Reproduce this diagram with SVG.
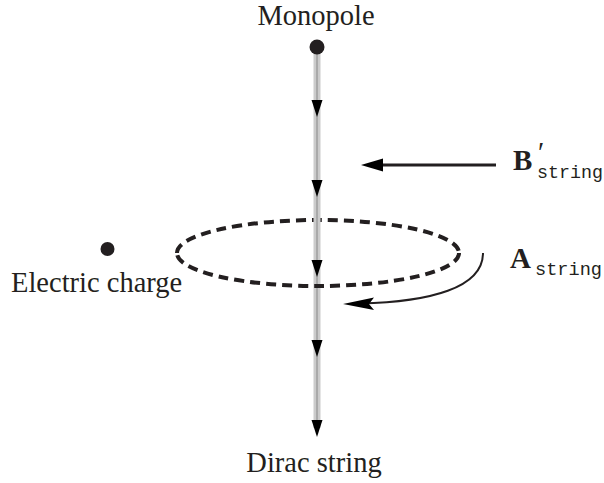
<svg xmlns="http://www.w3.org/2000/svg" width="604" height="483" viewBox="0 0 604 483">
<style>
.lbl{font-family:"Liberation Serif","Times New Roman",serif;font-size:28.5px;fill:#231f20}
.math{font-family:"Liberation Serif","DejaVu Serif",serif;font-weight:bold;font-size:29px;fill:#231f20}
.sub{font-family:"Liberation Mono","DejaVu Sans Mono",monospace;font-size:19px;fill:#231f20}
.dash{fill:none;stroke:#231f20;stroke-width:4;stroke-dasharray:10 6}
.head{fill:#000}
</style>
<rect width="604" height="483" fill="#fff"/>
<g id="ellipse-back">
<path class="dash" d="M177 253 A141 33 0 0 1 459 253"/>
</g>
<g id="dirac-string">
<line x1="317" y1="47" x2="317" y2="428" stroke="#cbcbcb" stroke-width="7"/>
<line x1="317" y1="47" x2="317" y2="428" stroke="#a9a9a9" stroke-width="2"/>
</g>
<g id="ellipse-front">
<path class="dash" d="M459 253 A141 33 0 0 1 177 253"/>
</g>
<g id="connectors">
<polygon class="head" points="311.5,100 322.5,100 317,117"/>
<polygon class="head" points="311.5,180 322.5,180 317,197"/>
<polygon class="head" points="311.5,260 322.5,260 317,277"/>
<polygon class="head" points="311.5,340 322.5,340 317,357"/>
<polygon class="head" points="311.5,420 322.5,420 317,437"/>
<line x1="382" y1="165" x2="496" y2="165" stroke="#231f20" stroke-width="3"/>
<polygon class="head" points="361,165 383,158.5 383,171.5"/>
<path d="M483 253 C483 288 430 302 360 303.5" fill="none" stroke="#231f20" stroke-width="2"/>
<polygon class="head" points="343,304 374,297.5 369,304 374,310"/>
</g>
<g id="monopole">
<circle cx="317" cy="47" r="7.5" fill="#231f20"/>
<text class="lbl" x="316" y="25" text-anchor="middle">Monopole</text>
</g>
<g id="electric-charge">
<circle cx="107.5" cy="249" r="7" fill="#231f20"/>
<text class="lbl" x="11" y="292">Electric charge</text>
</g>
<g id="dirac-label">
<text class="lbl" x="314" y="472" text-anchor="middle">Dirac string</text>
</g>
<g id="b-label">
<text x="513" y="170"><tspan class="math">B</tspan><tspan class="lbl" x="538" y="162" font-size="22">′</tspan><tspan class="sub" x="537" y="178" textLength="66" lengthAdjust="spacingAndGlyphs">string</tspan></text>
</g>
<g id="a-label">
<text x="510" y="268"><tspan class="math">A</tspan><tspan class="sub" x="535" y="275" textLength="67" lengthAdjust="spacingAndGlyphs">string</tspan></text>
</g>
</svg>
